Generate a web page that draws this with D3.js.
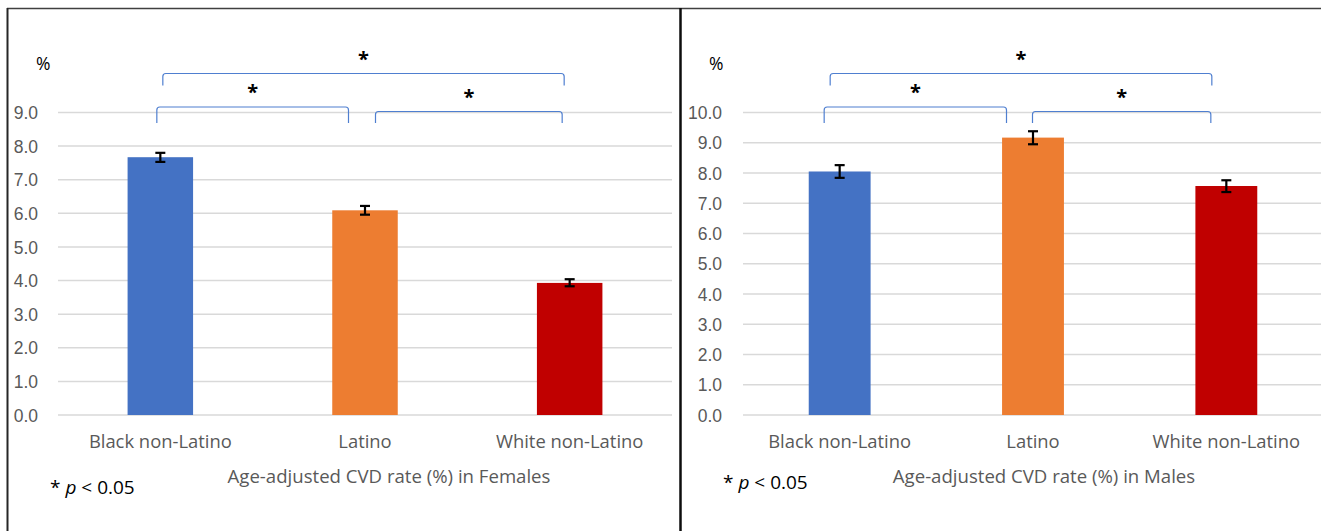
<!DOCTYPE html>
<html>
<head>
<meta charset="utf-8">
<script src="https://cdn.jsdelivr.net/npm/d3@7"></script>
<style>
  body { margin: 0; background: #fff; }
  svg { display: block; font-family: "Open Sans", "Noto Sans", sans-serif; }
  .tick text { fill: #595959; font-size: 17.5px; }
  .grid line { stroke: #d9d9d9; stroke-width: 1.5; }
  .cat { fill: #595959; font-size: 18.4px; }
  .title { fill: #595959; font-size: 18.6px; }
</style>
</head>
<body>
<svg id="chart" width="1321" height="531"></svg>
<script>
// categories and colours
const categories = ['Black non-Latino', 'Latino', 'White non-Latino'];
const barColors = ['#4472c4', '#ed7d31', '#c00000'];

// females
const femaleValues = [7.67, 6.09, 3.93];
const femaleErrLow = [7.53, 5.96, 3.83];
const femaleErrHigh = [7.80, 6.22, 4.04];
const femaleTicks = [0, 1, 2, 3, 4, 5, 6, 7, 8, 9];

// males
const maleValues = [8.05, 9.17, 7.57];
const maleErrLow = [7.84, 8.95, 7.37];
const maleErrHigh = [8.26, 9.38, 7.76];
const maleTicks = [0, 1, 2, 3, 4, 5, 6, 7, 8, 9, 10];

// significance brackets: [from category, to category, level]
const brackets = [[0, 1, 1], [1, 2, 0], [0, 2, 2]];

const svg = d3.select('#chart');

// panel frames
svg.append('line').attr('x1', 7).attr('x2', 1321).attr('y1', 8.5).attr('y2', 8.5)
    .attr('stroke', '#404040').attr('stroke-width', 1.5);
svg.append('line').attr('x1', 7.5).attr('x2', 7.5).attr('y1', 8).attr('y2', 531)
    .attr('stroke', '#262626').attr('stroke-width', 2);
svg.append('line').attr('x1', 680.5).attr('x2', 680.5).attr('y1', 8).attr('y2', 531)
    .attr('stroke', '#0d0d0d').attr('stroke-width', 2.5);

function drawPanel(cfg) {
  const g = svg.append('g');

  const y = d3.scaleLinear()
      .domain([0, d3.max(cfg.ticks)])
      .range([415, 112.5]);

  const x = d3.scaleBand()
      .domain(categories)
      .range([cfg.left, cfg.right])
      .paddingInner(0.68)
      .paddingOuter(0.34);

  // gridlines + tick labels
  const yAxis = d3.axisLeft(y)
      .tickValues(cfg.ticks)
      .tickSize(0)
      .tickPadding(0)
      .tickFormat(d3.format('.1f'));

  const axisG = g.append('g')
      .attr('transform', `translate(${cfg.labelRight},0)`)
      .call(yAxis)
      .call(a => a.select('.domain').remove());
  axisG.selectAll('.tick text').attr('dy', '0.35em');

  g.append('g').attr('class', 'grid')
    .selectAll('line')
    .data(cfg.ticks)
    .join('line')
      .attr('x1', cfg.left)
      .attr('x2', cfg.gridRight)
      .attr('y1', d => y(d))
      .attr('y2', d => y(d));

  // bars
  g.selectAll('.bar')
    .data(categories)
    .join('rect')
      .attr('class', 'bar')
      .attr('x', d => x(d))
      .attr('width', x.bandwidth())
      .attr('y', (d, i) => y(cfg.values[i]))
      .attr('height', (d, i) => y(0) - y(cfg.values[i]))
      .attr('fill', (d, i) => barColors[i]);

  // error bars
  const eb = g.selectAll('.err')
    .data(categories)
    .join('g')
      .attr('class', 'err')
      .attr('stroke', '#000')
      .attr('stroke-width', 2.2);
  const cx = d => x(d) + x.bandwidth() / 2;
  eb.append('line')
      .attr('x1', cx).attr('x2', cx)
      .attr('y1', (d, i) => y(cfg.errLow[i]))
      .attr('y2', (d, i) => y(cfg.errHigh[i]));
  eb.append('line')
      .attr('x1', d => cx(d) - 5).attr('x2', d => cx(d) + 5)
      .attr('y1', (d, i) => y(cfg.errLow[i]))
      .attr('y2', (d, i) => y(cfg.errLow[i]));
  eb.append('line')
      .attr('x1', d => cx(d) - 5).attr('x2', d => cx(d) + 5)
      .attr('y1', (d, i) => y(cfg.errHigh[i]))
      .attr('y2', (d, i) => y(cfg.errHigh[i]));

  // significance brackets
  const levelY = [111.5, 107, 73.5];
  brackets.forEach(([a, b, lvl]) => {
    const x1 = cx(categories[a]) + cfg.bracketOff[lvl][0];
    const x2 = cx(categories[b]) + cfg.bracketOff[lvl][1];
    const by = levelY[lvl];
    const bottom = lvl === 2 ? by + 12 : 123;
    const r = 3;
    g.append('path')
        .attr('d', `M${x1},${bottom} V${by + r} Q${x1},${by} ${x1 + r},${by} H${x2 - r} Q${x2},${by} ${x2},${by + r} V${bottom}`)
        .attr('fill', 'none')
        .attr('stroke', '#4f7fd0')
        .attr('stroke-width', 1.2);
    g.append('text')
        .attr('x', (x1 + x2) / 2)
        .attr('y', by - 8)
        .attr('text-anchor', 'middle')
        .attr('font-size', 20)
        .attr('font-weight', 'bold')
        .attr('fill', '#000')
        .text('*');
  });

  // % label
  g.append('text')
      .attr('x', cfg.pctX)
      .attr('y', 70)
      .attr('font-size', 17.5)
      .attr('fill', '#000')
      .text('%');

  // category labels
  g.selectAll('.cat')
    .data(categories)
    .join('text')
      .attr('class', 'cat')
      .attr('x', cx)
      .attr('y', 448)
      .attr('text-anchor', 'middle')
      .text(d => d);

  // axis title
  g.append('text')
      .attr('class', 'title')
      .attr('x', cfg.titleX)
      .attr('y', 483)
      .attr('text-anchor', 'middle')
      .text(cfg.title);

  // p-value note
  const note = g.append('text')
      .attr('x', cfg.noteX)
      .attr('y', cfg.noteY)
      .attr('font-size', 19)
      .attr('fill', '#000');
  note.append('tspan').text('* ');
  note.append('tspan').attr('font-style', 'italic').text('p');
  note.append('tspan').text(' < 0.05');
}

drawPanel({
  values: femaleValues, errLow: femaleErrLow, errHigh: femaleErrHigh, ticks: femaleTicks,
  left: 58, right: 672, gridRight: 672, labelRight: 38,
  bracketOff: [[10.5, -7.5], [-3.5, -16.5], [2.5, -5.5]],
  pctX: 36, titleX: 389, noteX: 50, noteY: 494,
  title: 'Age-adjusted CVD rate (%) in Females'
});

drawPanel({
  values: maleValues, errLow: maleErrLow, errHigh: maleErrHigh, ticks: maleTicks,
  left: 743, right: 1323, gridRight: 1321, labelRight: 722,
  bracketOff: [[-0.5, -15.5], [-15.5, -26.5], [-9.5, -14.5]],
  pctX: 709, titleX: 1044, noteX: 723, noteY: 489,
  title: 'Age-adjusted CVD rate (%) in Males'
});
</script>
</body>
</html>
